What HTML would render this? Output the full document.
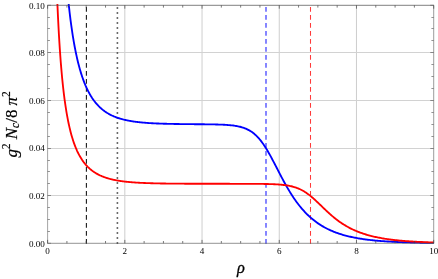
<!DOCTYPE html>
<html><head><meta charset="utf-8"><style>
html,body{margin:0;padding:0;background:#fff;}
body{width:438px;height:279px;overflow:hidden;font-family:"Liberation Serif",serif;}
svg{display:block;will-change:transform;opacity:0.999}
text{font-family:"Liberation Serif",serif;fill:#000}
</style></head><body>
<svg width="438" height="279" viewBox="0 0 438 279">
<rect width="438" height="279" fill="#fff"/>
<defs><clipPath id="c"><rect x="47.6" y="4.1" width="387.1" height="240.4"/></clipPath></defs>

<g stroke="#c2c2c2" stroke-width="0.8" fill="none">
<line x1="124.82" y1="5.3" x2="124.82" y2="243.3"/>
<line x1="202.04" y1="5.3" x2="202.04" y2="243.3"/>
<line x1="279.26" y1="5.3" x2="279.26" y2="243.3"/>
<line x1="356.48" y1="5.3" x2="356.48" y2="243.3"/>
<line x1="47.6" y1="195.50" x2="433.7" y2="195.50" stroke-width="1" stroke="#d2d2d2"/>
<line x1="47.6" y1="148.50" x2="433.7" y2="148.50" stroke-width="1" stroke="#d2d2d2"/>
<line x1="47.6" y1="100.50" x2="433.7" y2="100.50" stroke-width="1" stroke="#d2d2d2"/>
<line x1="47.6" y1="52.50" x2="433.7" y2="52.50" stroke-width="1" stroke="#d2d2d2"/>
</g>
<g fill="none">
<line x1="86.4" y1="243.8" x2="86.4" y2="5.3" stroke="#1a1a1a" stroke-width="1.1" stroke-dasharray="4.85 3.15"/>
<line x1="117.4" y1="243.8" x2="117.4" y2="5.3" stroke="#3a3a3a" stroke-width="1.6" stroke-dasharray="1.6 3.4"/>
<line x1="266.0" y1="243.8" x2="266.0" y2="5.3" stroke="#4646ff" stroke-width="1.3" stroke-dasharray="4.85 3.15"/>
<line x1="310.5" y1="243.8" x2="310.5" y2="5.3" stroke="#ff3a3a" stroke-width="1.05" stroke-dasharray="4.85 3.15"/>
</g>
<g clip-path="url(#c)" fill="none" stroke-width="1.85" stroke-linejoin="round">
<path d="M64.03 -52.97 L64.50 -45.73 L64.96 -38.90 L65.43 -32.45 L65.90 -26.35 L66.36 -20.57 L66.83 -15.10 L67.29 -9.90 L67.76 -4.96 L68.22 -0.27 L68.69 4.20 L69.16 8.45 L69.62 12.51 L70.09 16.38 L70.55 20.08 L71.02 23.61 L71.48 26.99 L71.95 30.23 L72.42 33.33 L72.88 36.30 L73.35 39.15 L73.81 41.88 L74.28 44.50 L74.74 47.02 L75.21 49.44 L75.67 51.77 L76.14 54.01 L76.61 56.16 L77.07 58.24 L77.54 60.24 L78.00 62.16 L78.47 64.02 L78.93 65.81 L79.40 67.53 L79.87 69.20 L80.33 70.81 L80.80 72.36 L81.26 73.86 L81.73 75.31 L82.19 76.71 L82.66 78.07 L83.13 79.38 L83.59 80.64 L84.06 81.87 L84.52 83.06 L84.99 84.20 L85.45 85.32 L85.92 86.39 L86.38 87.44 L86.85 88.45 L87.32 89.43 L87.78 90.38 L88.25 91.30 L88.71 92.19 L89.18 93.06 L89.64 93.89 L90.11 94.71 L90.58 95.50 L91.04 96.27 L91.51 97.01 L91.97 97.74 L92.44 98.44 L92.90 99.12 L93.37 99.78 L93.83 100.42 L94.30 101.05 L94.77 101.65 L95.23 102.24 L95.70 102.82 L96.16 103.37 L96.63 103.92 L97.09 104.44 L97.56 104.95 L98.03 105.45 L98.49 105.94 L98.96 106.41 L99.42 106.86 L99.89 107.31 L100.35 107.74 L100.82 108.16 L101.29 108.57 L101.75 108.97 L102.22 109.36 L102.68 109.74 L103.15 110.11 L103.61 110.46 L104.08 110.81 L104.54 111.15 L105.01 111.48 L105.48 111.80 L105.94 112.12 L106.41 112.42 L106.87 112.72 L107.34 113.01 L107.80 113.29 L108.27 113.56 L108.74 113.83 L109.20 114.09 L109.67 114.34 L110.13 114.59 L110.60 114.83 L111.06 115.07 L111.53 115.29 L112.00 115.52 L112.46 115.73 L112.93 115.95 L113.39 116.15 L113.86 116.35 L114.32 116.55 L114.79 116.74 L115.25 116.92 L115.72 117.10 L116.19 117.28 L116.65 117.45 L117.12 117.62 L117.58 117.78 L118.05 117.94 L118.51 118.10 L118.98 118.25 L119.45 118.40 L119.91 118.54 L120.38 118.68 L120.84 118.82 L121.31 118.95 L121.77 119.08 L122.24 119.21 L122.71 119.33 L123.17 119.46 L123.64 119.57 L124.10 119.69 L124.57 119.80 L125.03 119.91 L125.50 120.02 L125.96 120.12 L126.43 120.22 L126.90 120.32 L127.36 120.42 L127.83 120.51 L128.29 120.60 L128.76 120.69 L129.22 120.78 L129.69 120.86 L130.16 120.95 L130.62 121.03 L131.09 121.11 L131.55 121.18 L132.02 121.26 L132.48 121.33 L132.95 121.40 L133.42 121.47 L133.88 121.54 L134.35 121.61 L134.81 121.67 L135.28 121.74 L135.74 121.80 L136.21 121.86 L136.67 121.92 L137.14 121.97 L137.61 122.03 L138.07 122.09 L138.54 122.14 L139.00 122.19 L139.47 122.24 L139.93 122.29 L140.40 122.34 L140.87 122.39 L141.33 122.43 L141.80 122.48 L142.26 122.52 L142.73 122.56 L143.19 122.61 L143.66 122.65 L144.12 122.69 L145.09 122.77 L146.06 122.84 L147.03 122.91 L148.00 122.98 L148.97 123.05 L149.94 123.11 L150.90 123.17 L151.87 123.22 L152.84 123.27 L153.81 123.33 L154.78 123.37 L155.75 123.42 L156.72 123.46 L157.68 123.50 L158.65 123.54 L159.62 123.58 L160.59 123.62 L161.56 123.65 L162.53 123.68 L163.49 123.71 L164.46 123.74 L165.43 123.77 L166.40 123.79 L167.37 123.82 L168.34 123.84 L169.31 123.87 L170.27 123.89 L171.24 123.91 L172.21 123.93 L173.18 123.95 L174.15 123.96 L175.12 123.98 L176.08 124.00 L177.05 124.01 L178.02 124.03 L178.99 124.04 L179.96 124.05 L180.93 124.07 L181.90 124.08 L182.86 124.09 L183.83 124.10 L184.80 124.11 L185.77 124.12 L186.74 124.13 L187.71 124.14 L188.67 124.15 L189.64 124.16 L190.61 124.17 L191.58 124.18 L192.55 124.19 L193.52 124.20 L194.49 124.21 L195.45 124.21 L196.42 124.22 L197.39 124.23 L198.36 124.24 L199.33 124.25 L200.30 124.25 L201.27 124.26 L202.23 124.27 L203.20 124.28 L204.17 124.29 L205.14 124.30 L206.11 124.31 L207.08 124.32 L208.04 124.34 L209.01 124.35 L209.98 124.36 L210.95 124.38 L211.92 124.39 L212.89 124.41 L213.86 124.43 L214.82 124.45 L215.79 124.47 L216.76 124.49 L217.73 124.52 L218.70 124.55 L219.67 124.58 L220.63 124.62 L221.60 124.65 L222.57 124.69 L223.54 124.74 L224.51 124.79 L225.48 124.84 L226.45 124.91 L227.41 124.97 L228.38 125.05 L229.35 125.13 L230.32 125.21 L231.29 125.31 L232.26 125.42 L233.22 125.54 L234.19 125.67 L235.16 125.81 L236.13 125.97 L237.10 126.14 L238.07 126.33 L239.04 126.54 L240.00 126.77 L240.97 127.02 L241.94 127.29 L242.91 127.59 L243.88 127.92 L244.85 128.28 L245.82 128.67 L246.78 129.09 L247.75 129.56 L248.72 130.06 L249.69 130.61 L250.66 131.20 L251.63 131.84 L252.59 132.53 L253.56 133.28 L254.53 134.08 L255.50 134.94 L256.47 135.85 L257.44 136.83 L258.41 137.88 L259.37 138.98 L260.34 140.16 L261.31 141.39 L262.28 142.69 L263.25 144.06 L264.22 145.48 L265.18 146.96 L266.15 148.50 L267.12 150.10 L268.09 151.74 L269.06 153.43 L270.03 155.16 L271.00 156.93 L271.96 158.73 L272.93 160.56 L273.90 162.40 L274.87 164.27 L275.84 166.14 L276.81 168.02 L277.78 169.90 L278.74 171.78 L279.71 173.64 L280.68 175.50 L281.65 177.34 L282.62 179.16 L283.59 180.96 L284.55 182.73 L285.52 184.47 L286.49 186.19 L287.46 187.87 L288.43 189.52 L289.40 191.14 L290.37 192.71 L291.33 194.26 L292.30 195.77 L293.27 197.24 L294.24 198.67 L295.21 200.06 L296.18 201.42 L297.14 202.74 L298.11 204.03 L299.08 205.28 L300.05 206.49 L301.02 207.67 L301.99 208.81 L302.96 209.92 L303.92 210.99 L304.89 212.03 L305.86 213.05 L306.83 214.03 L307.80 214.97 L308.77 215.89 L309.73 216.79 L310.70 217.65 L311.67 218.48 L312.64 219.29 L313.61 220.08 L314.58 220.84 L315.55 221.57 L316.51 222.28 L317.48 222.97 L318.45 223.63 L319.42 224.28 L320.39 224.90 L321.36 225.50 L322.33 226.09 L323.29 226.65 L324.26 227.20 L325.23 227.73 L326.20 228.24 L327.17 228.73 L328.14 229.21 L329.10 229.67 L330.07 230.12 L331.04 230.55 L332.01 230.97 L332.98 231.38 L333.95 231.77 L334.92 232.15 L335.88 232.52 L336.85 232.87 L337.82 233.21 L338.79 233.54 L339.76 233.86 L340.73 234.18 L341.69 234.48 L342.66 234.77 L343.63 235.05 L344.60 235.32 L345.57 235.58 L346.54 235.83 L347.51 236.08 L348.47 236.32 L349.44 236.55 L350.41 236.77 L351.38 236.98 L352.35 237.19 L353.32 237.39 L354.28 237.59 L355.25 237.77 L356.22 237.96 L357.19 238.13 L358.16 238.30 L359.13 238.47 L360.10 238.62 L361.06 238.78 L362.03 238.93 L363.00 239.07 L363.97 239.21 L364.94 239.34 L365.91 239.47 L366.88 239.60 L367.84 239.72 L368.81 239.84 L369.78 239.95 L370.75 240.06 L371.72 240.17 L372.69 240.27 L373.65 240.37 L374.62 240.47 L375.59 240.56 L376.56 240.65 L377.53 240.74 L378.50 240.82 L379.47 240.91 L380.43 240.98 L381.40 241.06 L382.37 241.13 L383.34 241.20 L384.31 241.27 L385.28 241.34 L386.24 241.40 L387.21 241.47 L388.18 241.53 L389.15 241.59 L390.12 241.64 L391.09 241.70 L392.06 241.75 L393.02 241.80 L393.99 241.85 L394.96 241.90 L395.93 241.94 L396.90 241.99 L397.87 242.03 L398.83 242.07 L399.80 242.11 L400.77 242.15 L401.74 242.19 L402.71 242.23 L403.68 242.26 L404.65 242.30 L405.61 242.33 L406.58 242.36 L407.55 242.39 L408.52 242.42 L409.49 242.45 L410.46 242.48 L411.43 242.51 L412.39 242.53 L413.36 242.56 L414.33 242.58 L415.30 242.61 L416.27 242.63 L417.24 242.65 L418.20 242.67 L419.17 242.69 L420.14 242.71 L421.11 242.73 L422.08 242.75 L423.05 242.77 L424.02 242.79 L424.98 242.80 L425.95 242.82 L426.92 242.83 L427.89 242.85 L428.86 242.86 L429.83 242.88 L430.79 242.89 L431.76 242.91 L432.73 242.92 L433.70 242.93" stroke="#0000ff"/>
<path d="M55.65 -46.14 L56.12 -30.78 L56.58 -17.03 L57.05 -4.67 L57.51 6.52 L57.98 16.68 L58.45 25.94 L58.91 34.43 L59.38 42.22 L59.84 49.41 L60.31 56.05 L60.77 62.20 L61.24 67.92 L61.71 73.25 L62.17 78.22 L62.64 82.87 L63.10 87.23 L63.57 91.32 L64.03 95.17 L64.50 98.79 L64.96 102.20 L65.43 105.43 L65.90 108.48 L66.36 111.37 L66.83 114.10 L67.29 116.70 L67.76 119.17 L68.22 121.51 L68.69 123.75 L69.16 125.88 L69.62 127.90 L70.09 129.84 L70.55 131.69 L71.02 133.46 L71.48 135.15 L71.95 136.76 L72.42 138.31 L72.88 139.80 L73.35 141.22 L73.81 142.59 L74.28 143.90 L74.74 145.16 L75.21 146.37 L75.67 147.53 L76.14 148.65 L76.61 149.73 L77.07 150.77 L77.54 151.77 L78.00 152.73 L78.47 153.66 L78.93 154.55 L79.40 155.42 L79.87 156.25 L80.33 157.05 L80.80 157.83 L81.26 158.58 L81.73 159.31 L82.19 160.01 L82.66 160.68 L83.13 161.34 L83.59 161.97 L84.06 162.58 L84.52 163.18 L84.99 163.75 L85.45 164.31 L85.92 164.85 L86.38 165.37 L86.85 165.87 L87.32 166.36 L87.78 166.84 L88.25 167.30 L88.71 167.74 L89.18 168.18 L89.64 168.60 L90.11 169.00 L90.58 169.40 L91.04 169.78 L91.51 170.16 L91.97 170.52 L92.44 170.87 L92.90 171.21 L93.37 171.54 L93.83 171.86 L94.30 172.17 L94.77 172.48 L95.23 172.77 L95.70 173.06 L96.16 173.34 L96.63 173.61 L97.09 173.87 L97.56 174.13 L98.03 174.38 L98.49 174.62 L98.96 174.85 L99.42 175.08 L99.89 175.30 L100.35 175.52 L100.82 175.73 L101.29 175.94 L101.75 176.14 L102.22 176.33 L102.68 176.52 L103.15 176.70 L103.61 176.88 L104.08 177.06 L104.54 177.23 L105.01 177.39 L105.48 177.55 L105.94 177.71 L106.41 177.86 L106.87 178.01 L107.34 178.15 L107.80 178.29 L108.27 178.43 L108.74 178.57 L109.20 178.70 L109.67 178.82 L110.13 178.95 L110.60 179.07 L111.06 179.18 L111.53 179.30 L112.00 179.41 L112.46 179.52 L112.93 179.62 L113.39 179.73 L113.86 179.83 L114.32 179.92 L114.79 180.02 L115.25 180.11 L115.72 180.20 L116.19 180.29 L116.65 180.38 L117.12 180.46 L117.58 180.54 L118.05 180.62 L118.51 180.70 L118.98 180.78 L119.45 180.85 L119.91 180.92 L120.38 180.99 L120.84 181.06 L121.31 181.13 L121.77 181.19 L122.24 181.26 L122.71 181.32 L123.17 181.38 L123.64 181.44 L124.10 181.49 L124.57 181.55 L125.03 181.60 L125.50 181.66 L125.96 181.71 L126.43 181.76 L126.90 181.81 L127.36 181.86 L127.83 181.91 L128.29 181.95 L128.76 182.00 L129.22 182.04 L129.69 182.08 L130.16 182.12 L130.62 182.16 L131.09 182.20 L131.55 182.24 L132.02 182.28 L132.48 182.32 L132.95 182.35 L133.42 182.39 L133.88 182.42 L134.35 182.45 L134.81 182.49 L135.28 182.52 L135.74 182.55 L136.21 182.58 L136.67 182.61 L137.14 182.64 L137.61 182.67 L138.07 182.69 L138.54 182.72 L139.00 182.75 L139.47 182.77 L139.93 182.80 L140.40 182.82 L140.87 182.84 L141.33 182.87 L141.80 182.89 L142.26 182.91 L142.73 182.93 L143.19 182.95 L143.66 182.97 L144.12 182.99 L145.09 183.03 L146.06 183.07 L147.03 183.11 L148.00 183.14 L148.97 183.17 L149.94 183.20 L150.90 183.23 L151.87 183.26 L152.84 183.29 L153.81 183.31 L154.78 183.34 L155.75 183.36 L156.72 183.38 L157.68 183.40 L158.65 183.42 L159.62 183.44 L160.59 183.46 L161.56 183.47 L162.53 183.49 L163.49 183.51 L164.46 183.52 L165.43 183.53 L166.40 183.55 L167.37 183.56 L168.34 183.57 L169.31 183.58 L170.27 183.59 L171.24 183.60 L172.21 183.61 L173.18 183.62 L174.15 183.63 L175.12 183.64 L176.08 183.65 L177.05 183.65 L178.02 183.66 L178.99 183.67 L179.96 183.67 L180.93 183.68 L181.90 183.69 L182.86 183.69 L183.83 183.70 L184.80 183.70 L185.77 183.71 L186.74 183.71 L187.71 183.72 L188.67 183.72 L189.64 183.72 L190.61 183.73 L191.58 183.73 L192.55 183.73 L193.52 183.74 L194.49 183.74 L195.45 183.74 L196.42 183.75 L197.39 183.75 L198.36 183.75 L199.33 183.75 L200.30 183.76 L201.27 183.76 L202.23 183.76 L203.20 183.76 L204.17 183.76 L205.14 183.77 L206.11 183.77 L207.08 183.77 L208.04 183.77 L209.01 183.77 L209.98 183.77 L210.95 183.78 L211.92 183.78 L212.89 183.78 L213.86 183.78 L214.82 183.78 L215.79 183.78 L216.76 183.78 L217.73 183.78 L218.70 183.78 L219.67 183.79 L220.63 183.79 L221.60 183.79 L222.57 183.79 L223.54 183.79 L224.51 183.79 L225.48 183.79 L226.45 183.79 L227.41 183.79 L228.38 183.79 L229.35 183.79 L230.32 183.80 L231.29 183.80 L232.26 183.80 L233.22 183.80 L234.19 183.80 L235.16 183.80 L236.13 183.80 L237.10 183.80 L238.07 183.80 L239.04 183.81 L240.00 183.81 L240.97 183.81 L241.94 183.81 L242.91 183.81 L243.88 183.82 L244.85 183.82 L245.82 183.82 L246.78 183.82 L247.75 183.83 L248.72 183.83 L249.69 183.83 L250.66 183.84 L251.63 183.84 L252.59 183.85 L253.56 183.85 L254.53 183.86 L255.50 183.86 L256.47 183.87 L257.44 183.88 L258.41 183.89 L259.37 183.90 L260.34 183.91 L261.31 183.92 L262.28 183.93 L263.25 183.94 L264.22 183.96 L265.18 183.98 L266.15 184.00 L267.12 184.02 L268.09 184.04 L269.06 184.06 L270.03 184.09 L271.00 184.12 L271.96 184.16 L272.93 184.19 L273.90 184.23 L274.87 184.28 L275.84 184.33 L276.81 184.39 L277.78 184.45 L278.74 184.51 L279.71 184.59 L280.68 184.67 L281.65 184.75 L282.62 184.85 L283.59 184.96 L284.55 185.08 L285.52 185.20 L286.49 185.35 L287.46 185.50 L288.43 185.67 L289.40 185.85 L290.37 186.05 L291.33 186.27 L292.30 186.51 L293.27 186.77 L294.24 187.05 L295.21 187.35 L296.18 187.68 L297.14 188.03 L298.11 188.41 L299.08 188.82 L300.05 189.26 L301.02 189.73 L301.99 190.23 L302.96 190.76 L303.92 191.32 L304.89 191.92 L305.86 192.55 L306.83 193.21 L307.80 193.90 L308.77 194.62 L309.73 195.37 L310.70 196.15 L311.67 196.95 L312.64 197.78 L313.61 198.64 L314.58 199.51 L315.55 200.40 L316.51 201.30 L317.48 202.22 L318.45 203.14 L319.42 204.08 L320.39 205.01 L321.36 205.95 L322.33 206.89 L323.29 207.83 L324.26 208.76 L325.23 209.69 L326.20 210.61 L327.17 211.51 L328.14 212.41 L329.10 213.29 L330.07 214.16 L331.04 215.01 L332.01 215.85 L332.98 216.66 L333.95 217.47 L334.92 218.25 L335.88 219.02 L336.85 219.76 L337.82 220.49 L338.79 221.20 L339.76 221.90 L340.73 222.57 L341.69 223.22 L342.66 223.86 L343.63 224.48 L344.60 225.08 L345.57 225.66 L346.54 226.23 L347.51 226.78 L348.47 227.31 L349.44 227.83 L350.41 228.33 L351.38 228.81 L352.35 229.28 L353.32 229.74 L354.28 230.18 L355.25 230.61 L356.22 231.02 L357.19 231.42 L358.16 231.81 L359.13 232.18 L360.10 232.55 L361.06 232.90 L362.03 233.24 L363.00 233.57 L363.97 233.89 L364.94 234.20 L365.91 234.49 L366.88 234.78 L367.84 235.06 L368.81 235.33 L369.78 235.59 L370.75 235.85 L371.72 236.09 L372.69 236.33 L373.65 236.56 L374.62 236.78 L375.59 236.99 L376.56 237.20 L377.53 237.40 L378.50 237.59 L379.47 237.78 L380.43 237.96 L381.40 238.14 L382.37 238.31 L383.34 238.47 L384.31 238.63 L385.28 238.79 L386.24 238.93 L387.21 239.08 L388.18 239.22 L389.15 239.35 L390.12 239.48 L391.09 239.61 L392.06 239.73 L393.02 239.84 L393.99 239.96 L394.96 240.07 L395.93 240.17 L396.90 240.28 L397.87 240.38 L398.83 240.47 L399.80 240.57 L400.77 240.66 L401.74 240.74 L402.71 240.83 L403.68 240.91 L404.65 240.99 L405.61 241.06 L406.58 241.14 L407.55 241.21 L408.52 241.28 L409.49 241.34 L410.46 241.41 L411.43 241.47 L412.39 241.53 L413.36 241.59 L414.33 241.64 L415.30 241.70 L416.27 241.75 L417.24 241.80 L418.20 241.85 L419.17 241.90 L420.14 241.95 L421.11 241.99 L422.08 242.03 L423.05 242.07 L424.02 242.11 L424.98 242.15 L425.95 242.19 L426.92 242.23 L427.89 242.26 L428.86 242.30 L429.83 242.33 L430.79 242.36 L431.76 242.39 L432.73 242.42 L433.70 242.45" stroke="#ff0000"/>
</g>
<g stroke="#4a4a4a" fill="none">
<line x1="47.3" y1="5.3" x2="434.0" y2="5.3" stroke-width="0.7"/>
<line x1="47.3" y1="243.3" x2="434.0" y2="243.3" stroke-width="0.6"/>
<line x1="47.6" y1="5.3" x2="47.6" y2="243.3" stroke-width="0.5"/>
<line x1="433.7" y1="5.3" x2="433.7" y2="243.3" stroke-width="0.55"/>
</g>
<g stroke="#444" stroke-width="0.7" fill="none">
<line x1="47.60" y1="243.3" x2="47.60" y2="239.9"/>
<line x1="47.60" y1="5.3" x2="47.60" y2="8.7"/>
<line x1="66.91" y1="243.3" x2="66.91" y2="241.0"/>
<line x1="66.91" y1="5.3" x2="66.91" y2="7.6"/>
<line x1="86.21" y1="243.3" x2="86.21" y2="241.0"/>
<line x1="86.21" y1="5.3" x2="86.21" y2="7.6"/>
<line x1="105.52" y1="243.3" x2="105.52" y2="241.0"/>
<line x1="105.52" y1="5.3" x2="105.52" y2="7.6"/>
<line x1="124.82" y1="243.3" x2="124.82" y2="239.9"/>
<line x1="124.82" y1="5.3" x2="124.82" y2="8.7"/>
<line x1="144.12" y1="243.3" x2="144.12" y2="241.0"/>
<line x1="144.12" y1="5.3" x2="144.12" y2="7.6"/>
<line x1="163.43" y1="243.3" x2="163.43" y2="241.0"/>
<line x1="163.43" y1="5.3" x2="163.43" y2="7.6"/>
<line x1="182.73" y1="243.3" x2="182.73" y2="241.0"/>
<line x1="182.73" y1="5.3" x2="182.73" y2="7.6"/>
<line x1="202.04" y1="243.3" x2="202.04" y2="239.9"/>
<line x1="202.04" y1="5.3" x2="202.04" y2="8.7"/>
<line x1="221.34" y1="243.3" x2="221.34" y2="241.0"/>
<line x1="221.34" y1="5.3" x2="221.34" y2="7.6"/>
<line x1="240.65" y1="243.3" x2="240.65" y2="241.0"/>
<line x1="240.65" y1="5.3" x2="240.65" y2="7.6"/>
<line x1="259.95" y1="243.3" x2="259.95" y2="241.0"/>
<line x1="259.95" y1="5.3" x2="259.95" y2="7.6"/>
<line x1="279.26" y1="243.3" x2="279.26" y2="239.9"/>
<line x1="279.26" y1="5.3" x2="279.26" y2="8.7"/>
<line x1="298.56" y1="243.3" x2="298.56" y2="241.0"/>
<line x1="298.56" y1="5.3" x2="298.56" y2="7.6"/>
<line x1="317.87" y1="243.3" x2="317.87" y2="241.0"/>
<line x1="317.87" y1="5.3" x2="317.87" y2="7.6"/>
<line x1="337.17" y1="243.3" x2="337.17" y2="241.0"/>
<line x1="337.17" y1="5.3" x2="337.17" y2="7.6"/>
<line x1="356.48" y1="243.3" x2="356.48" y2="239.9"/>
<line x1="356.48" y1="5.3" x2="356.48" y2="8.7"/>
<line x1="375.79" y1="243.3" x2="375.79" y2="241.0"/>
<line x1="375.79" y1="5.3" x2="375.79" y2="7.6"/>
<line x1="395.09" y1="243.3" x2="395.09" y2="241.0"/>
<line x1="395.09" y1="5.3" x2="395.09" y2="7.6"/>
<line x1="414.39" y1="243.3" x2="414.39" y2="241.0"/>
<line x1="414.39" y1="5.3" x2="414.39" y2="7.6"/>
<line x1="433.70" y1="243.3" x2="433.70" y2="239.9"/>
<line x1="433.70" y1="5.3" x2="433.70" y2="8.7"/>
<line x1="47.6" y1="243.30" x2="51.0" y2="243.30" stroke="#666"/>
<line x1="433.7" y1="243.30" x2="430.3" y2="243.30" stroke="#666"/>
<line x1="47.6" y1="231.50" x2="49.9" y2="231.50" stroke="#666"/>
<line x1="433.7" y1="231.50" x2="431.4" y2="231.50" stroke="#666"/>
<line x1="47.6" y1="219.50" x2="49.9" y2="219.50" stroke="#666"/>
<line x1="433.7" y1="219.50" x2="431.4" y2="219.50" stroke="#666"/>
<line x1="47.6" y1="207.50" x2="49.9" y2="207.50" stroke="#666"/>
<line x1="433.7" y1="207.50" x2="431.4" y2="207.50" stroke="#666"/>
<line x1="47.6" y1="195.50" x2="51.0" y2="195.50" stroke="#666"/>
<line x1="433.7" y1="195.50" x2="430.3" y2="195.50" stroke="#666"/>
<line x1="47.6" y1="183.50" x2="49.9" y2="183.50" stroke="#666"/>
<line x1="433.7" y1="183.50" x2="431.4" y2="183.50" stroke="#666"/>
<line x1="47.6" y1="171.50" x2="49.9" y2="171.50" stroke="#666"/>
<line x1="433.7" y1="171.50" x2="431.4" y2="171.50" stroke="#666"/>
<line x1="47.6" y1="160.50" x2="49.9" y2="160.50" stroke="#666"/>
<line x1="433.7" y1="160.50" x2="431.4" y2="160.50" stroke="#666"/>
<line x1="47.6" y1="148.50" x2="51.0" y2="148.50" stroke="#666"/>
<line x1="433.7" y1="148.50" x2="430.3" y2="148.50" stroke="#666"/>
<line x1="47.6" y1="136.50" x2="49.9" y2="136.50" stroke="#666"/>
<line x1="433.7" y1="136.50" x2="431.4" y2="136.50" stroke="#666"/>
<line x1="47.6" y1="124.50" x2="49.9" y2="124.50" stroke="#666"/>
<line x1="433.7" y1="124.50" x2="431.4" y2="124.50" stroke="#666"/>
<line x1="47.6" y1="112.50" x2="49.9" y2="112.50" stroke="#666"/>
<line x1="433.7" y1="112.50" x2="431.4" y2="112.50" stroke="#666"/>
<line x1="47.6" y1="100.50" x2="51.0" y2="100.50" stroke="#666"/>
<line x1="433.7" y1="100.50" x2="430.3" y2="100.50" stroke="#666"/>
<line x1="47.6" y1="88.50" x2="49.9" y2="88.50" stroke="#666"/>
<line x1="433.7" y1="88.50" x2="431.4" y2="88.50" stroke="#666"/>
<line x1="47.6" y1="76.50" x2="49.9" y2="76.50" stroke="#666"/>
<line x1="433.7" y1="76.50" x2="431.4" y2="76.50" stroke="#666"/>
<line x1="47.6" y1="64.50" x2="49.9" y2="64.50" stroke="#666"/>
<line x1="433.7" y1="64.50" x2="431.4" y2="64.50" stroke="#666"/>
<line x1="47.6" y1="52.50" x2="51.0" y2="52.50" stroke="#666"/>
<line x1="433.7" y1="52.50" x2="430.3" y2="52.50" stroke="#666"/>
<line x1="47.6" y1="40.50" x2="49.9" y2="40.50" stroke="#666"/>
<line x1="433.7" y1="40.50" x2="431.4" y2="40.50" stroke="#666"/>
<line x1="47.6" y1="28.50" x2="49.9" y2="28.50" stroke="#666"/>
<line x1="433.7" y1="28.50" x2="431.4" y2="28.50" stroke="#666"/>
<line x1="47.6" y1="17.50" x2="49.9" y2="17.50" stroke="#666"/>
<line x1="433.7" y1="17.50" x2="431.4" y2="17.50" stroke="#666"/>
<line x1="47.6" y1="5.30" x2="51.0" y2="5.30" stroke="#666"/>
<line x1="433.7" y1="5.30" x2="430.3" y2="5.30" stroke="#666"/>
</g>
<g font-size="9.1">
<text x="47.60" y="254.3" text-anchor="middle">0</text>
<text x="124.82" y="254.3" text-anchor="middle">2</text>
<text x="202.04" y="254.3" text-anchor="middle">4</text>
<text x="279.26" y="254.3" text-anchor="middle">6</text>
<text x="356.48" y="254.3" text-anchor="middle">8</text>
<text x="433.70" y="254.3" text-anchor="middle">10</text>
<text x="44.8" y="246.50" text-anchor="end">0.00</text>
<text x="44.8" y="198.90" text-anchor="end">0.02</text>
<text x="44.8" y="151.30" text-anchor="end">0.04</text>
<text x="44.8" y="103.70" text-anchor="end">0.06</text>
<text x="44.8" y="56.10" text-anchor="end">0.08</text>
<text x="44.8" y="8.50" text-anchor="end">0.10</text>
</g>
<text x="240.8" y="272.8" font-size="16.3" font-style="italic" text-anchor="middle" stroke="#000" stroke-width="0.3">ρ</text>
<text transform="translate(16.7,124.4) rotate(-90)" font-size="16.9" font-style="italic" text-anchor="middle" stroke="#000" stroke-width="0.2">g<tspan font-size="11.5" dy="-6.8" font-style="normal">2</tspan><tspan dy="6.8"> N</tspan><tspan font-size="11.5" dy="2.2">c</tspan><tspan dy="-2.2" font-style="normal">/8 </tspan><tspan>π</tspan><tspan font-size="11.5" dy="-6.8" font-style="normal">2</tspan></text>
</svg></body></html>
